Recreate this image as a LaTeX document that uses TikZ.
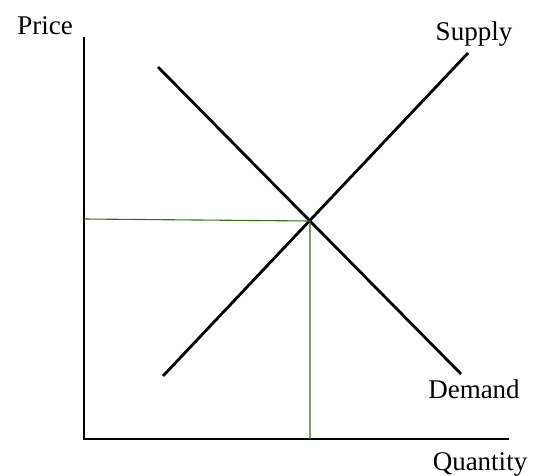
\documentclass[tikz,border=0pt]{standalone}
\usepackage{fontspec}
\setmainfont{Liberation Serif}
\usetikzlibrary{positioning}

\begin{document}
\begin{tikzpicture}[
  x=1pt, y=-1pt,
  font=\fontsize{27}{31}\selectfont,
  axis/.style ={line width=2.8pt, line cap=rect},
  curve/.style={line width=2.8pt},
  guide/.style={line width=1.1pt, draw={rgb,255:red,55;green,110;blue,25}},
  lbl/.style  ={anchor=base, inner sep=0pt},
]
\useasboundingbox (0,0) rectangle (533,476);

% axes
\coordinate (top)    at (84,38);
\coordinate (origin) at (84,439);
\coordinate (right)  at (508,439);
\draw[axis] (top) -- (origin) -- (right);

% supply and demand
\coordinate (s0) at (163,376);
\coordinate (s1) at (468,53);
\coordinate (d0) at (158,67);
\coordinate (d1) at (461,374);
\draw[curve] (s0) -- (s1);
\draw[curve] (d0) -- (d1);

% equilibrium
\coordinate (eq)  at (310,221);
\coordinate (peq) at (84,219);
\coordinate (qeq) at (310,439);
\draw[guide] (peq) -- (eq) -- (qeq);

% labels
\node[lbl] (price)    at (45,35)  {Price};
\node[lbl] (supply)   at (474,41) {Supply};
\node[lbl] (demand)   at (474,398) {Demand};
\node[lbl] (quantity) at (480,470) {Quantity};

\end{tikzpicture}
\end{document}
